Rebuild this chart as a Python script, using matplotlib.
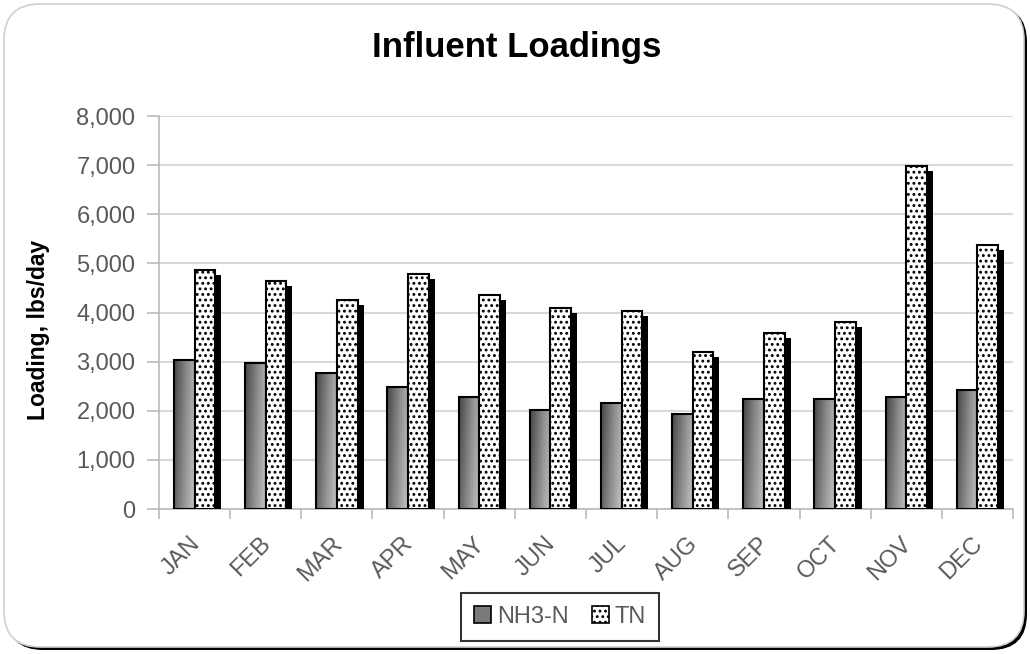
import numpy as np
import matplotlib
matplotlib.use("Agg")
import matplotlib.pyplot as plt
from matplotlib.patches import Rectangle, FancyBboxPatch, Patch
from matplotlib.colors import LinearSegmentedColormap
from matplotlib.transforms import offset_copy, ScaledTranslation
from matplotlib.ticker import FuncFormatter, FixedLocator

months = ["JAN", "FEB", "MAR", "APR", "MAY", "JUN", "JUL", "AUG", "SEP", "OCT", "NOV", "DEC"]
nh3_n = [3040, 2980, 2760, 2490, 2285, 2010, 2150, 1930, 2245, 2240, 2290, 2430]
tn = [4860, 4640, 4245, 4775, 4350, 4090, 4030, 3200, 3580, 3810, 6990, 5380]
series_names = ["NH3-N", "TN"]
y_ticks = [0, 1000, 2000, 3000, 4000, 5000, 6000, 7000, 8000]

plt.rcParams["font.family"] = ["Liberation Sans", "DejaVu Sans"]
plt.rcParams["hatch.linewidth"] = 1.3

TEXT = "#595959"
AXIS = "#bfbfbf"
GRID = "#d9d9d9"

fig = plt.figure(figsize=(10.30, 6.54), dpi=100)

# rounded chart frame with a dark drop shadow
shadow = FancyBboxPatch((7 / 1030, 4 / 654), 1020 / 1030, 644 / 654,
                        boxstyle="round,pad=0,rounding_size=0.035",
                        transform=fig.transFigure, facecolor="black",
                        edgecolor="none", zorder=0, mutation_aspect=1030 / 654)
frame = FancyBboxPatch((4 / 1030, 7 / 654), 1020 / 1030, 643 / 654,
                       boxstyle="round,pad=0,rounding_size=0.035",
                       transform=fig.transFigure, facecolor="white",
                       edgecolor="#d0d0d0", linewidth=1.2, zorder=1,
                       mutation_aspect=1030 / 654)
fig.patches.extend([shadow, frame])

ax = fig.add_axes([159 / 1030, 1 - 509 / 654, (1013 - 159) / 1030, (509 - 116) / 654])
ax.set_facecolor("none")
ax.set_zorder(2)

x = np.arange(len(months))
w = 0.29

# NH3-N bars: gradient fill clipped to each bar, black outline
cmap = LinearSegmentedColormap.from_list("bar_grad", ["#454545", "#8a8a8a", "#c4c4c4"])
nh3_bars = ax.bar(x - w / 2, nh3_n, width=w, facecolor="none",
                  edgecolor="black", linewidth=1.5, zorder=4)
gx = np.linspace(0, 1, 64)
gy = np.linspace(0, 1, 64)
GX, GY = np.meshgrid(gx, gy)
grad = 0.8 * GX + 0.2 * (1 - GY)
for bar in nh3_bars:
    x0, h, bw = bar.get_x(), bar.get_height(), bar.get_width()
    im = ax.imshow(grad, cmap=cmap, extent=[x0, x0 + bw, 0, h], origin="lower",
                   aspect="auto", interpolation="bilinear", zorder=3)
    clip = Rectangle((x0, 0), bw, h, transform=ax.transData)
    im.set_clip_path(clip)
ax.set_xlim(-0.5, len(months) - 0.5)
ax.set_ylim(0, 8000)

# TN bars: solid black shadow, then dotted white bars on top
shadow_tf = offset_copy(ax.transData, fig=fig, x=6, y=-5, units="dots")
ax.bar(x + w / 2, tn, width=w, color="black", edgecolor="black",
       linewidth=0, transform=shadow_tf, zorder=3.5)
ax.bar(x + w / 2, tn, width=w, facecolor="white", edgecolor="black",
       hatch="...", linewidth=1.5, zorder=5)

# axes styling
ax.set_axisbelow(True)
ax.yaxis.grid(True, color=GRID, linewidth=1.5)
for side in ["top", "right"]:
    ax.spines[side].set_visible(False)
ax.spines["left"].set_color(AXIS)
ax.spines["bottom"].set_color(AXIS)
ax.spines["left"].set_linewidth(1.3)
ax.spines["bottom"].set_linewidth(1.3)

ax.set_yticks(y_ticks)
ax.yaxis.set_major_formatter(FuncFormatter(lambda v, p: f"{int(v):,}"))
ax.tick_params(axis="y", length=9, width=1.3, color=AXIS, labelcolor=TEXT,
               labelsize=17, pad=8)

ax.set_xticks(x)
ax.set_xticklabels(months, rotation=45, ha="right", va="top",
                   rotation_mode="anchor")
ax.tick_params(axis="x", which="major", length=0, labelcolor=TEXT,
               labelsize=17, pad=17)
ax.xaxis.set_minor_locator(FixedLocator(np.arange(-0.5, len(months), 1.0)))
ax.tick_params(axis="x", which="minor", length=7, width=1.3, color=AXIS)
shift = ScaledTranslation(-6 / 100, 0, fig.dpi_scale_trans)
for lbl in ax.get_xticklabels():
    lbl.set_transform(lbl.get_transform() + shift)

ax.set_ylabel("Loading, lbs/day", fontsize=16.5, fontweight="bold", color="black")
ax.yaxis.set_label_coords(-0.128, 0.455)

fig.text(517 / 1030, 1 - 48 / 654, "Influent Loadings", ha="center", va="center",
         fontsize=25, fontweight="bold", color="black")

handles = [
    Patch(facecolor="#7a7a7a", edgecolor="black", linewidth=1.2, label=series_names[0]),
    Patch(facecolor="white", edgecolor="black", hatch="...", linewidth=1.2,
          label=series_names[1]),
]
leg = fig.legend(handles=handles, loc="center", bbox_to_anchor=(560 / 1030, 1 - 617 / 654),
                 ncol=2, frameon=True, fancybox=False, fontsize=17,
                 handlelength=0.7, handleheight=0.7, handletextpad=0.25,
                 columnspacing=1.0, borderpad=0.55, labelcolor=TEXT)
leg.get_frame().set_edgecolor("black")
leg.get_frame().set_linewidth(1.5)

fig.savefig("out.png", dpi=100)
